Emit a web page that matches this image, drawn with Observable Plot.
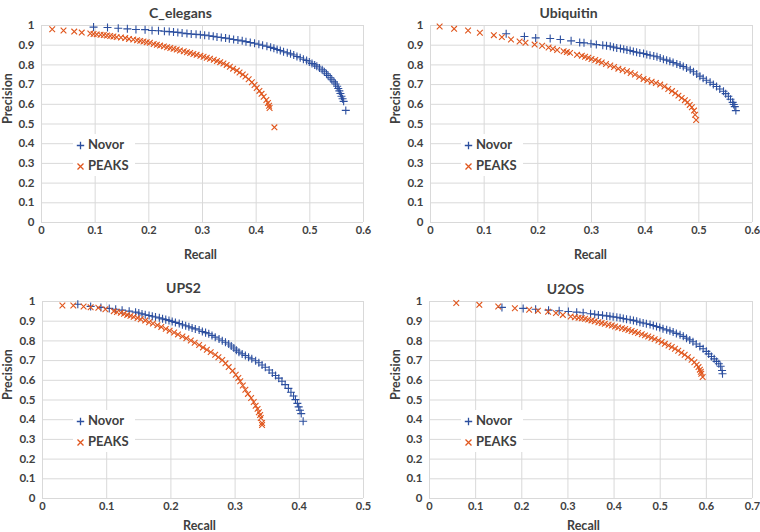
<!DOCTYPE html>
<html>
<head>
<meta charset="utf-8">
<script src="https://cdn.jsdelivr.net/npm/d3@7"></script>
<script src="https://cdn.jsdelivr.net/npm/@observablehq/plot@0.6"></script>
<style>
  body { margin: 0; background: white; }
  #charts { display: grid; grid-template-columns: 380px 380px; width: 760px; }
  .panel { position: relative; width: 380px; height: 266px; }
  .legend { position: absolute; background: white; font: bold 13px Lato, sans-serif; color: #404040; padding: 0 6px 0 3px; }
  .legend div { height: 21px; line-height: 21px; white-space: nowrap; }
  .legend svg { vertical-align: -1px; margin-right: 3px; }
</style>
</head>
<body>
<div id="charts"></div>
<script>
// tick labels
const yTicks = [0, 0.1, 0.2, 0.3, 0.4, 0.5, 0.6, 0.7, 0.8, 0.9, 1]
const xTicks5 = [0, 0.1, 0.2, 0.3, 0.4, 0.5]
const xTicks6 = [0, 0.1, 0.2, 0.3, 0.4, 0.5, 0.6]
const xTicks7 = [0, 0.1, 0.2, 0.3, 0.4, 0.5, 0.6, 0.7]

const series = ["Novor", "PEAKS"]
const titles = ["C_elegans", "Ubiquitin", "UPS2", "U2OS"]

// [recall, precision]
const celegansNovor = [[0.097,0.992],[0.123,0.99],[0.143,0.986],[0.160,0.983],[0.176,0.98],[0.193,0.979],[0.206,0.975],[0.218,0.973],[0.229,0.971],[0.238,0.969],[0.246,0.967],[0.254,0.965],[0.262,0.962],[0.271,0.959],[0.279,0.957],[0.288,0.955],[0.296,0.953],[0.304,0.951],[0.312,0.948],[0.320,0.945],[0.327,0.942],[0.335,0.939],[0.343,0.936],[0.350,0.933],[0.358,0.929],[0.366,0.926],[0.374,0.922],[0.381,0.918],[0.389,0.914],[0.397,0.910],[0.405,0.905],[0.412,0.900],[0.420,0.895],[0.427,0.889],[0.433,0.884],[0.439,0.878],[0.445,0.873],[0.451,0.867],[0.458,0.862],[0.464,0.856],[0.470,0.850],[0.476,0.843],[0.482,0.836],[0.488,0.829],[0.494,0.822],[0.499,0.815],[0.504,0.807],[0.509,0.800],[0.513,0.793],[0.518,0.784],[0.523,0.775],[0.527,0.765],[0.531,0.755],[0.534,0.746],[0.538,0.735],[0.541,0.725],[0.545,0.714],[0.548,0.703],[0.551,0.692],[0.553,0.680],[0.555,0.668],[0.557,0.655],[0.559,0.641],[0.561,0.628],[0.563,0.615],[0.567,0.569]]
const celegansPeaks = [[0.020,0.981],[0.041,0.975],[0.061,0.969],[0.075,0.964],[0.091,0.959],[0.097,0.957],[0.103,0.955],[0.110,0.953],[0.116,0.952],[0.122,0.949],[0.128,0.947],[0.134,0.944],[0.140,0.941],[0.148,0.939],[0.156,0.936],[0.163,0.932],[0.171,0.929],[0.178,0.925],[0.184,0.922],[0.190,0.919],[0.196,0.915],[0.202,0.912],[0.209,0.906],[0.215,0.902],[0.221,0.898],[0.228,0.894],[0.234,0.890],[0.240,0.886],[0.246,0.882],[0.252,0.878],[0.258,0.873],[0.265,0.869],[0.271,0.864],[0.277,0.860],[0.283,0.855],[0.289,0.851],[0.296,0.846],[0.302,0.841],[0.308,0.836],[0.314,0.831],[0.321,0.826],[0.327,0.820],[0.333,0.814],[0.339,0.807],[0.345,0.800],[0.351,0.791],[0.357,0.781],[0.364,0.771],[0.369,0.761],[0.375,0.751],[0.380,0.741],[0.386,0.727],[0.392,0.712],[0.397,0.698],[0.401,0.683],[0.406,0.668],[0.410,0.653],[0.414,0.638],[0.419,0.622],[0.422,0.607],[0.424,0.593],[0.425,0.581],[0.434,0.483]]

const ubiquitinNovor = [[0.141,0.958],[0.175,0.944],[0.196,0.937],[0.223,0.934],[0.242,0.929],[0.262,0.922],[0.278,0.914],[0.286,0.912],[0.299,0.907],[0.309,0.903],[0.321,0.900],[0.328,0.897],[0.335,0.895],[0.341,0.890],[0.347,0.886],[0.354,0.883],[0.360,0.880],[0.366,0.876],[0.372,0.873],[0.378,0.868],[0.384,0.864],[0.390,0.861],[0.397,0.858],[0.403,0.853],[0.409,0.849],[0.416,0.845],[0.422,0.841],[0.428,0.835],[0.434,0.829],[0.440,0.824],[0.446,0.819],[0.452,0.812],[0.459,0.805],[0.465,0.799],[0.471,0.792],[0.477,0.784],[0.484,0.775],[0.490,0.765],[0.496,0.754],[0.502,0.743],[0.508,0.732],[0.514,0.722],[0.521,0.712],[0.527,0.701],[0.533,0.690],[0.539,0.678],[0.546,0.666],[0.550,0.654],[0.555,0.641],[0.559,0.626],[0.563,0.610],[0.565,0.599],[0.567,0.588],[0.569,0.568]]
const ubiquitinPeaks = [[0.017,0.995],[0.044,0.983],[0.070,0.975],[0.092,0.963],[0.118,0.951],[0.133,0.941],[0.150,0.929],[0.166,0.919],[0.177,0.912],[0.194,0.903],[0.208,0.897],[0.220,0.888],[0.228,0.882],[0.236,0.876],[0.248,0.869],[0.254,0.865],[0.260,0.861],[0.273,0.851],[0.282,0.847],[0.288,0.841],[0.294,0.836],[0.300,0.830],[0.307,0.825],[0.313,0.819],[0.319,0.812],[0.327,0.805],[0.335,0.797],[0.342,0.789],[0.350,0.781],[0.358,0.774],[0.366,0.768],[0.373,0.759],[0.381,0.751],[0.389,0.740],[0.397,0.729],[0.404,0.722],[0.412,0.715],[0.420,0.708],[0.428,0.700],[0.436,0.690],[0.443,0.678],[0.450,0.667],[0.456,0.656],[0.462,0.644],[0.468,0.632],[0.474,0.621],[0.479,0.610],[0.483,0.597],[0.487,0.585],[0.491,0.568],[0.493,0.547],[0.495,0.520]]

const ups2Novor = [[0.055,0.986],[0.075,0.975],[0.091,0.970],[0.104,0.965],[0.114,0.961],[0.124,0.956],[0.135,0.951],[0.145,0.946],[0.150,0.942],[0.155,0.937],[0.160,0.933],[0.166,0.929],[0.171,0.925],[0.176,0.921],[0.182,0.917],[0.187,0.912],[0.192,0.908],[0.197,0.904],[0.202,0.899],[0.207,0.894],[0.213,0.888],[0.218,0.882],[0.223,0.877],[0.228,0.872],[0.233,0.866],[0.238,0.861],[0.244,0.855],[0.249,0.848],[0.254,0.842],[0.259,0.836],[0.264,0.828],[0.269,0.819],[0.275,0.810],[0.280,0.801],[0.285,0.793],[0.290,0.784],[0.294,0.774],[0.298,0.764],[0.302,0.753],[0.306,0.743],[0.311,0.734],[0.316,0.726],[0.321,0.717],[0.326,0.709],[0.332,0.699],[0.337,0.689],[0.342,0.678],[0.347,0.666],[0.353,0.652],[0.358,0.637],[0.363,0.624],[0.368,0.611],[0.373,0.595],[0.378,0.578],[0.383,0.559],[0.387,0.539],[0.391,0.520],[0.394,0.502],[0.397,0.483],[0.399,0.465],[0.401,0.448],[0.403,0.431],[0.406,0.392]]
const ups2Peaks = [[0.031,0.980],[0.048,0.980],[0.064,0.975],[0.075,0.971],[0.087,0.968],[0.098,0.961],[0.111,0.951],[0.116,0.947],[0.122,0.943],[0.127,0.938],[0.132,0.932],[0.137,0.927],[0.142,0.922],[0.148,0.916],[0.153,0.910],[0.160,0.903],[0.166,0.895],[0.172,0.888],[0.179,0.880],[0.185,0.871],[0.192,0.861],[0.198,0.852],[0.205,0.843],[0.211,0.833],[0.218,0.823],[0.224,0.813],[0.231,0.802],[0.237,0.791],[0.244,0.779],[0.250,0.767],[0.256,0.755],[0.262,0.743],[0.269,0.730],[0.274,0.717],[0.280,0.703],[0.285,0.686],[0.290,0.667],[0.296,0.648],[0.301,0.628],[0.305,0.612],[0.308,0.595],[0.312,0.574],[0.316,0.552],[0.320,0.531],[0.325,0.510],[0.329,0.490],[0.332,0.471],[0.335,0.455],[0.337,0.438],[0.339,0.424],[0.340,0.409],[0.342,0.383],[0.342,0.373]]

const u2osNovor = [[0.157,0.970],[0.203,0.965],[0.230,0.961],[0.258,0.956],[0.281,0.953],[0.301,0.949],[0.319,0.946],[0.333,0.943],[0.349,0.938],[0.358,0.935],[0.366,0.932],[0.375,0.930],[0.384,0.927],[0.391,0.925],[0.398,0.922],[0.406,0.920],[0.413,0.917],[0.420,0.914],[0.427,0.910],[0.435,0.907],[0.442,0.904],[0.449,0.900],[0.456,0.895],[0.463,0.891],[0.470,0.887],[0.478,0.883],[0.485,0.878],[0.492,0.873],[0.499,0.868],[0.506,0.862],[0.514,0.856],[0.521,0.851],[0.528,0.845],[0.535,0.838],[0.543,0.831],[0.550,0.823],[0.557,0.814],[0.564,0.805],[0.571,0.796],[0.578,0.784],[0.586,0.772],[0.593,0.760],[0.600,0.747],[0.605,0.734],[0.611,0.721],[0.617,0.709],[0.622,0.696],[0.627,0.684],[0.631,0.671],[0.634,0.650],[0.635,0.633]]
const u2osPeaks = [[0.058,0.992],[0.108,0.983],[0.149,0.975],[0.185,0.966],[0.216,0.958],[0.235,0.953],[0.257,0.948],[0.274,0.941],[0.289,0.932],[0.306,0.924],[0.315,0.920],[0.323,0.917],[0.330,0.915],[0.337,0.912],[0.344,0.908],[0.351,0.904],[0.358,0.900],[0.366,0.895],[0.373,0.891],[0.380,0.887],[0.388,0.882],[0.395,0.878],[0.402,0.873],[0.409,0.868],[0.417,0.864],[0.424,0.860],[0.431,0.855],[0.438,0.850],[0.445,0.845],[0.452,0.840],[0.460,0.834],[0.467,0.828],[0.474,0.822],[0.481,0.816],[0.488,0.809],[0.496,0.802],[0.503,0.794],[0.510,0.785],[0.518,0.777],[0.525,0.769],[0.532,0.760],[0.539,0.750],[0.546,0.740],[0.553,0.730],[0.560,0.717],[0.568,0.704],[0.574,0.692],[0.579,0.679],[0.583,0.667],[0.586,0.654],[0.588,0.643],[0.589,0.633],[0.592,0.617]]

const blue = "#2c4f9f"
const orange = "#e0561d"
const textColor = "#404040"
const gridColor = "#d9d9d9"

// layout of each panel (pixels inside its 380x266 box)
const panels = [
  {title: titles[0], novor: celegansNovor, peaks: celegansPeaks, xTicks: xTicks6, ml: 41, mr: 17, mt: 25, mb: 44, titleX: 180, titleY: 8, recallX: 200, recallY: 250, precX: 7, legX: 80, legY: 144},
  {title: titles[1], novor: ubiquitinNovor, peaks: ubiquitinPeaks, xTicks: xTicks6, ml: 50, mr: 8, mt: 25, mb: 44, titleX: 188, titleY: 8, recallX: 210, recallY: 250, precX: 15, legX: 88, legY: 144},
  {title: titles[2], novor: ups2Novor, peaks: ups2Peaks, xTicks: xTicks5, ml: 42, mr: 17, mt: 35, mb: 34, titleX: 183, titleY: 17, recallX: 199, recallY: 255, precX: 7, legX: 80, legY: 154},
  {title: titles[3], novor: u2osNovor, peaks: u2osPeaks, xTicks: xTicks7, ml: 49, mr: 8, mt: 35, mb: 34, titleX: 185, titleY: 18, recallX: 203, recallY: 255, precX: 15, legX: 88, legY: 154}
]

const toRows = arr => arr.map(([recall, precision]) => ({recall, precision}))
const fmt = d => String(d)

function panel(p) {
  return Plot.plot({
    width: 380,
    height: 266,
    marginLeft: p.ml,
    marginRight: p.mr,
    marginTop: p.mt,
    marginBottom: p.mb,
    style: {fontFamily: "Lato, sans-serif", background: "white", overflow: "visible"},
    x: {domain: [0, p.xTicks[p.xTicks.length - 1]], label: null},
    y: {domain: [0, 1], label: null},
    marks: [
      Plot.gridX(p.xTicks, {stroke: gridColor, strokeOpacity: 1}),
      Plot.gridY(yTicks, {stroke: gridColor, strokeOpacity: 1}),
      Plot.axisX(p.xTicks, {tickSize: 0, tickPadding: 4, tickFormat: fmt, fontSize: 11, fontWeight: "bold", fill: textColor, label: null}),
      Plot.axisY(yTicks, {tickSize: 0, tickPadding: 7, tickFormat: fmt, fontSize: 11.5, fontWeight: "bold", fill: textColor, label: null}),
      Plot.dot(toRows(p.novor), {x: "recall", y: "precision", symbol: "plus", stroke: blue, r: 2.7, strokeWidth: 1.1}),
      Plot.dot(toRows(p.peaks), {x: "recall", y: "precision", symbol: "times", stroke: orange, r: 2.7, strokeWidth: 1.1}),
      Plot.text([p.title], {text: d => d, frameAnchor: "top-left", dx: p.titleX - p.ml, dy: p.titleY - p.mt, textAnchor: "middle", fontSize: 14, fontWeight: "bold", fill: textColor}),
      Plot.text(["Recall"], {text: d => d, frameAnchor: "top-left", dx: p.recallX - p.ml, dy: p.recallY - p.mt, textAnchor: "middle", fontSize: 12.5, fontWeight: "bold", fill: textColor}),
      Plot.text(["Precision"], {text: d => d, frameAnchor: "left", dx: p.precX - p.ml, rotate: -90, fontSize: 12.5, fontWeight: "bold", fill: textColor})
    ]
  })
}

const symbols = {
  Novor: `<svg width="9" height="9"><path d="M4.5 0.8V8.2M0.8 4.5H8.2" stroke="${blue}" stroke-width="1.3"/></svg>`,
  PEAKS: `<svg width="9" height="9"><path d="M1.5 1.5L7.5 7.5M7.5 1.5L1.5 7.5" stroke="${orange}" stroke-width="1.3"/></svg>`
}

const root = d3.select("#charts")
panels.forEach(p => {
  const div = root.append("div").attr("class", "panel")
  div.append(() => panel(p))
  const leg = div.append("div").attr("class", "legend")
    .style("left", (p.legX - 7) + "px")
    .style("top", (p.legY - 10.5) + "px")
  series.forEach(s => leg.append("div").html(symbols[s] + s))
})
</script>
</body>
</html>
